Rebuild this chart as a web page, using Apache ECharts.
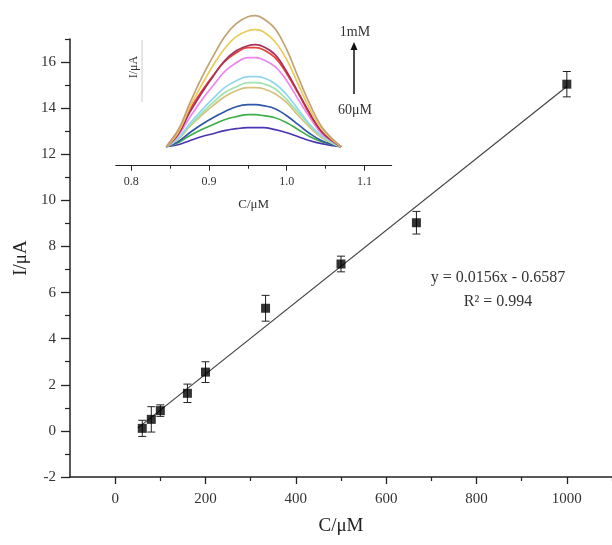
<!DOCTYPE html>
<html>
<head>
<meta charset="utf-8">
<script src="https://cdn.jsdelivr.net/npm/echarts@6/dist/echarts.min.js"></script>
<style>html,body{margin:0;padding:0;background:#fff}#c{width:612px;height:545px}</style>
</head>
<body>
<div id="c"></div>
<script>
// ---- main calibration data ----
const concentrations = [60, 80, 100, 160, 200, 333, 500, 667, 1000];
const currents = [0.11, 0.5, 0.88, 1.63, 2.55, 5.32, 7.24, 9.03, 15.04];
const errors = [0.35, 0.55, 0.25, 0.4, 0.45, 0.56, 0.34, 0.49, 0.55];
const fitSlope = 0.0156;
const fitIntercept = -0.6587;
const fitRange = [50, 1000];
const xTickValues = [0, 200, 400, 600, 800, 1000];
const xMinorTicks = [100, 300, 500, 700, 900, 1100];
const yTickValues = [-2, 0, 2, 4, 6, 8, 10, 12, 14, 16];
const yMinorTicks = [-1, 1, 3, 5, 7, 9, 11, 13, 15, 17];
const equationText = 'y = 0.0156x - 0.6587';
const r2Text = 'R² = 0.994';

// ---- inset DPV curves ----
const potentials = [0.845, 0.86, 0.875, 0.89, 0.905, 0.92, 0.935, 0.95, 0.96, 0.97, 0.985, 1.0, 1.015, 1.03, 1.045, 1.06, 1.07];
const curveTop      = [1.9,3.5,6.2,8.7,10.9,12.9,14.2,14.9,15.0,14.7,13.7,11.6,8.8,6.1,3.9,2.6,1.9];
const curveYellow   = [1.9,3.3,5.8,8.0,10.0,11.7,12.9,13.5,13.6,13.4,12.4,10.6,8.1,5.6,3.7,2.5,1.9];
const curveMaroon   = [1.9,3.1,5.3,7.2,8.9,10.5,11.5,12.0,12.1,11.9,11.1,9.4,7.3,5.2,3.4,2.4,1.9];
const curveRed      = [1.9,3.5,5.6,7.4,9.0,10.4,11.3,11.8,11.8,11.6,10.8,9.2,7.2,5.1,3.4,2.4,1.9];
const curvePink     = [1.9,3.0,4.8,6.5,8.0,9.4,10.3,10.8,10.8,10.6,9.9,8.5,6.6,4.8,3.2,2.4,1.9];
const curveCyan     = [1.9,2.7,4.2,5.5,6.7,7.8,8.5,8.9,8.9,8.8,8.2,7.1,5.6,4.1,3.0,2.3,1.9];
const curveLtGreen  = [1.9,2.7,4.0,5.2,6.3,7.3,7.9,8.3,8.3,8.2,7.7,6.6,5.3,4.0,2.9,2.2,1.9];
const curveKhaki    = [1.9,2.6,3.9,5.0,6.0,6.9,7.5,7.8,7.8,7.7,7.2,6.3,5.0,3.8,2.8,2.2,1.9];
const curveBlue     = [1.9,2.4,3.3,4.1,4.8,5.4,5.9,6.1,6.1,6.0,5.7,5.0,4.1,3.2,2.5,2.1,1.9];
const curveGreen    = [1.9,2.3,3.0,3.6,4.1,4.6,4.9,5.1,5.1,5.0,4.8,4.3,3.6,2.9,2.4,2.1,1.9];
const curvePurple   = [1.9,2.1,2.5,2.9,3.2,3.5,3.7,3.8,3.8,3.8,3.6,3.3,2.9,2.5,2.2,2.0,1.9];
const insetCurves = [curvePurple, curveGreen, curveBlue, curveKhaki, curveLtGreen, curveCyan, curvePink, curveRed, curveMaroon, curveYellow, curveTop];
const insetColors = ['#4a36b4', '#3fae4a', '#2f56a8', '#d6c27a', '#9fe3b0', '#8fd6ee', '#ee86ee', '#e8433a', '#a8305a', '#e8cc5a', '#c2a274'];
const insetTickValues = [0.8, 0.9, 1.0, 1.1];
const insetMinorTicks = [0.85, 0.95, 1.05];

const serif = '"Liberation Serif", "DejaVu Serif", serif';
const txt = '#333';
const axisCol = '#222';

const chart = echarts.init(document.getElementById('c'), null, {renderer: 'canvas'});

const errData = concentrations.map((c, i) => [c, currents[i] - errors[i], currents[i] + errors[i]]);
const fitData = fitRange.map(x => [x, fitSlope * x + fitIntercept]);

const insetSeries = insetCurves.map((arr, i) => ({
  type: 'line', xAxisIndex: 2, yAxisIndex: 2, smooth: 0.4, symbol: 'none',
  data: potentials.map((p, j) => [p, arr[j]]),
  lineStyle: {color: insetColors[i], width: 1.7}, silent: true, z: 3
}));

chart.setOption({
  animation: false,
  backgroundColor: '#fff',
  grid: [
    {left: 70, right: 0, top: 39, bottom: 68},
    {left: 115.8, right: 220.4, top: 5.7, bottom: 379.3}
  ],
  xAxis: [
    {
      gridIndex: 0, type: 'value', min: -100, max: 1100, position: 'bottom',
      name: 'C/μM', nameLocation: 'middle', nameGap: 40,
      nameTextStyle: {fontFamily: serif, fontSize: 19, color: axisCol},
      axisLine: {show: true, onZero: false, lineStyle: {color: axisCol, width: 1.5}},
      axisTick: {show: true, inside: false, length: 7, customValues: xTickValues, lineStyle: {color: axisCol, width: 1.3}},
      axisLabel: {customValues: xTickValues, margin: 15, fontFamily: serif, fontSize: 15, color: txt,
        formatter: v => String(v)},
      splitLine: {show: false}
    },
    {
      gridIndex: 0, type: 'value', min: -100, max: 1100, position: 'bottom',
      axisLine: {show: false, onZero: false},
      axisTick: {show: true, length: 4, customValues: xMinorTicks, lineStyle: {color: axisCol, width: 1.2}},
      axisLabel: {show: false}, splitLine: {show: false}
    },
    {
      gridIndex: 1, type: 'value', min: 0.78, max: 1.135, position: 'bottom',
      name: 'C/μM', nameLocation: 'middle', nameGap: 32,
      nameTextStyle: {fontFamily: serif, fontSize: 13, color: txt},
      axisLine: {show: true, onZero: false, lineStyle: {color: axisCol, width: 1.2}},
      axisTick: {show: true, length: 5, customValues: insetTickValues, lineStyle: {color: axisCol, width: 1}},
      axisLabel: {customValues: insetTickValues, margin: 10, fontFamily: serif, fontSize: 12, color: txt,
        formatter: v => Number(v).toFixed(1)},
      splitLine: {show: false}
    },
    {
      gridIndex: 1, type: 'value', min: 0.78, max: 1.135, position: 'bottom',
      axisLine: {show: false, onZero: false},
      axisTick: {show: true, length: 3, customValues: insetMinorTicks, lineStyle: {color: axisCol, width: 1}},
      axisLabel: {show: false}, splitLine: {show: false}
    }
  ],
  yAxis: [
    {
      gridIndex: 0, type: 'value', min: -2, max: 17, position: 'left',
      name: 'I/μA', nameLocation: 'middle', nameGap: 38, nameRotate: 90,
      nameTextStyle: {fontFamily: serif, fontSize: 19, color: axisCol},
      axisLine: {show: true, onZero: false, lineStyle: {color: axisCol, width: 1.5}},
      axisTick: {show: true, length: 9, customValues: yTickValues, lineStyle: {color: axisCol, width: 1.3}},
      axisLabel: {customValues: yTickValues, margin: 14, fontFamily: serif, fontSize: 15, color: txt},
      splitLine: {show: false}
    },
    {
      gridIndex: 0, type: 'value', min: -2, max: 17, position: 'left',
      axisLine: {show: false, onZero: false},
      axisTick: {show: true, length: 5, customValues: yMinorTicks, lineStyle: {color: axisCol, width: 1.2}},
      axisLabel: {show: false}, splitLine: {show: false}
    },
    {
      gridIndex: 1, type: 'value', min: 0, max: 16, show: false
    }
  ],
  series: [
    {
      type: 'line', xAxisIndex: 0, yAxisIndex: 0, data: fitData, symbol: 'none',
      lineStyle: {color: '#444', width: 1.2}, silent: true, z: 2
    },
    {
      type: 'custom', xAxisIndex: 0, yAxisIndex: 0, data: errData,
      encode: {x: 0, y: [1, 2]}, z: 4, silent: true,
      renderItem: function (params, api) {
        const x = api.value(0);
        const top = api.coord([x, api.value(2)]);
        const bot = api.coord([x, api.value(1)]);
        const w = 4;
        const st = {stroke: '#222', lineWidth: 1};
        return {
          type: 'group',
          children: [
            {type: 'line', shape: {x1: top[0], y1: top[1], x2: bot[0], y2: bot[1]}, style: st},
            {type: 'line', shape: {x1: top[0] - w, y1: top[1], x2: top[0] + w, y2: top[1]}, style: st},
            {type: 'line', shape: {x1: bot[0] - w, y1: bot[1], x2: bot[0] + w, y2: bot[1]}, style: st}
          ]
        };
      }
    },
    {
      type: 'scatter', xAxisIndex: 0, yAxisIndex: 0, symbol: 'rect', symbolSize: 9,
      data: concentrations.map((c, i) => [c, currents[i]]),
      itemStyle: {color: '#000'}, z: 5, silent: true
    }
  ].concat(insetSeries),
  graphic: [
    {type: 'text', x: 498, y: 278, style: {text: equationText, font: '16px ' + serif, fill: txt, align: 'center', verticalAlign: 'middle'}},
    {type: 'text', x: 498, y: 302, style: {text: r2Text, font: '16px ' + serif, fill: txt, align: 'center', verticalAlign: 'middle'}},
    {type: 'text', x: 355, y: 32, style: {text: '1mM', font: '14px ' + serif, fill: txt, align: 'center', verticalAlign: 'middle'}},
    {type: 'text', x: 355, y: 110, style: {text: '60μM', font: '14px ' + serif, fill: txt, align: 'center', verticalAlign: 'middle'}},
    {type: 'line', shape: {x1: 354, y1: 94, x2: 354, y2: 48}, style: {stroke: '#111', lineWidth: 1.5}},
    {type: 'polygon', shape: {points: [[350.5, 50], [357.5, 50], [354, 42]]}, style: {fill: '#111'}},
    {type: 'text', x: 134, y: 67, rotation: Math.PI / 2, style: {text: 'I/μA', font: '12px ' + serif, fill: txt, align: 'center', verticalAlign: 'middle'}},
    {type: 'line', shape: {x1: 142, y1: 40, x2: 142, y2: 102}, style: {stroke: '#ccc', lineWidth: 1}}
  ]
});
</script>
</body>
</html>
